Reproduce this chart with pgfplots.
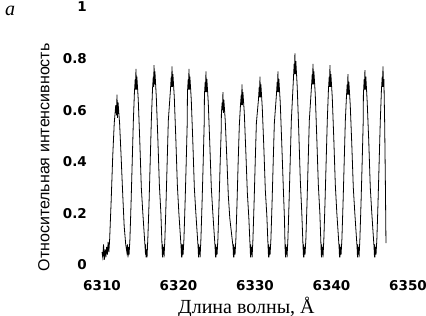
\documentclass[border=0pt]{standalone}
\usepackage{fontspec}
\setmainfont{Liberation Serif}
\setsansfont{Liberation Sans}
\newfontfamily\tickfont{DejaVu Sans}
\usepackage{pgfplots}
\pgfplotsset{compat=1.18}
\begin{document}
\begin{tikzpicture}
\useasboundingbox (-102pt,-51pt) rectangle (324pt,265pt);
\begin{axis}[
  at={(0,0)}, anchor=south west,
  scale only axis,
  width=306pt, height=258pt,
  xmin=6310, xmax=6350, ymin=0, ymax=1,
  axis line style={draw=none},
  major tick length=0pt,
  xtick={6310,6320,6330,6340,6350},
  xticklabels={6310,6320,6330,6340,6350},
  ytick={0,0.2,0.4,0.6,0.8,1},
  yticklabels={0,0.2,0.4,0.6,0.8,1},
  ticklabel style={font=\tickfont\bfseries\fontsize{13.5}{15}\selectfont},
  xticklabel style={inner sep=0pt, anchor=north, yshift=-15pt},
  yticklabel style={inner sep=0pt, anchor=east, xshift=-15pt},
  clip=false,
  xlabel={Длина волны, Å},
  ylabel={Относительная интенсивность},
  every axis x label/.style={at={(axis description cs:0.472,-0.163)}, anchor=center, font=\rmfamily\fontsize{20}{22}\selectfont},
  every axis y label/.style={at={(axis description cs:-0.19,0.417)}, anchor=center, rotate=90, font=\sffamily\fontsize{16}{18}\selectfont},
]
\node[font=\rmfamily\itshape\fontsize{20}{22}\selectfont] at (axis description cs:-0.30,0.985) {a};
\addplot[black, line width=0.8pt] coordinates {
(6310.00,0.05) (6310.10,0.03) (6310.20,0.08) (6310.30,0.02) (6310.40,0.06) (6310.50,0.03)
(6310.60,0.07) (6310.70,0.04) (6310.80,0.09) (6310.90,0.05) (6311.00,0.10)
(6311.20,0.25) (6311.40,0.42) (6311.60,0.55) (6311.80,0.62) (6311.90,0.58) (6311.96,0.66)
(6312.02,0.57) (6312.10,0.63) (6312.30,0.55) (6312.50,0.42) (6312.70,0.28) (6312.90,0.15)
(6313.10,0.08) (6313.25,0.05) (6313.33,0.08)
(6313.40,0.03) (6313.47,0.07) (6313.54,0.04) (6313.65,0.10) (6313.80,0.24) (6313.95,0.40)
(6314.10,0.56) (6314.24,0.67) (6314.34,0.72) (6314.39,0.68) (6314.44,0.76) (6314.50,0.68)
(6314.56,0.73) (6314.74,0.64) (6314.94,0.48) (6315.14,0.30) (6315.34,0.20) (6315.63,0.07)
(6315.69,0.04) (6315.72,0.08)
(6315.75,0.03) (6315.82,0.06) (6315.89,0.03) (6316.00,0.11) (6316.15,0.24) (6316.30,0.40)
(6316.45,0.56) (6316.60,0.68) (6316.70,0.73) (6316.75,0.69) (6316.80,0.775) (6316.86,0.70)
(6316.92,0.75) (6317.10,0.65) (6317.30,0.49) (6317.50,0.31) (6317.70,0.20) (6317.85,0.07)
(6317.91,0.03) (6317.94,0.08)
(6317.97,0.04) (6318.04,0.07) (6318.11,0.03) (6318.22,0.10) (6318.37,0.24) (6318.52,0.40)
(6318.67,0.56) (6318.95,0.68) (6319.05,0.73) (6319.10,0.69) (6319.15,0.77) (6319.21,0.69)
(6319.27,0.74) (6319.45,0.65) (6319.65,0.49) (6319.85,0.31) (6320.05,0.20) (6320.34,0.07)
(6320.40,0.03) (6320.43,0.08)
(6320.46,0.03) (6320.53,0.08) (6320.60,0.04) (6320.71,0.10) (6320.86,0.24) (6321.01,0.40)
(6321.14,0.55) (6321.17,0.67) (6321.27,0.72) (6321.32,0.68) (6321.37,0.76) (6321.43,0.68)
(6321.49,0.73) (6321.67,0.64) (6321.87,0.48) (6322.07,0.30) (6322.27,0.20) (6322.56,0.07)
(6322.62,0.03) (6322.65,0.08)
(6322.68,0.04) (6322.75,0.07) (6322.82,0.03) (6322.93,0.10) (6323.08,0.24) (6323.23,0.40)
(6323.36,0.55) (6323.39,0.66) (6323.49,0.71) (6323.54,0.67) (6323.59,0.75) (6323.65,0.67)
(6323.71,0.72) (6323.89,0.63) (6324.09,0.47) (6324.29,0.30) (6324.49,0.20) (6324.78,0.07)
(6324.84,0.03) (6324.87,0.08)
(6324.90,0.03) (6324.97,0.07) (6325.04,0.04) (6325.15,0.10) (6325.30,0.24) (6325.45,0.40)
(6325.58,0.52) (6325.61,0.59) (6325.71,0.63) (6325.76,0.60) (6325.81,0.67) (6325.87,0.59)
(6325.93,0.64) (6326.11,0.56) (6326.31,0.42) (6326.51,0.27) (6326.71,0.18) (6327.13,0.07)
(6327.19,0.03) (6327.22,0.08)
(6327.25,0.03) (6327.32,0.07) (6327.39,0.04) (6327.50,0.10) (6327.65,0.24) (6327.80,0.40)
(6327.95,0.54) (6328.10,0.62) (6328.20,0.66) (6328.25,0.62) (6328.30,0.70) (6328.36,0.62)
(6328.42,0.67) (6328.60,0.59) (6328.80,0.44) (6329.00,0.28) (6329.20,0.18) (6329.36,0.07)
(6329.42,0.03) (6329.45,0.08)
(6329.48,0.04) (6329.55,0.07) (6329.62,0.03) (6329.73,0.10) (6329.88,0.24) (6330.03,0.40)
(6330.18,0.55) (6330.45,0.64) (6330.55,0.69) (6330.60,0.65) (6330.65,0.73) (6330.71,0.65)
(6330.77,0.70) (6330.95,0.61) (6331.15,0.46) (6331.35,0.29) (6331.55,0.19) (6331.71,0.07)
(6331.77,0.03) (6331.80,0.08)
(6331.83,0.03) (6331.90,0.07) (6331.97,0.04) (6332.08,0.10) (6332.23,0.24) (6332.38,0.40)
(6332.53,0.55) (6332.80,0.66) (6332.90,0.71) (6332.95,0.67) (6333.00,0.75) (6333.06,0.67)
(6333.12,0.72) (6333.30,0.63) (6333.50,0.47) (6333.70,0.30) (6333.85,0.18) (6333.93,0.07)
(6333.99,0.03) (6334.02,0.08)
(6334.05,0.04) (6334.12,0.07) (6334.19,0.03) (6334.30,0.10) (6334.45,0.24) (6334.60,0.40)
(6334.75,0.56) (6335.02,0.72) (6335.12,0.78) (6335.17,0.74) (6335.22,0.82) (6335.28,0.74)
(6335.34,0.79) (6335.52,0.69) (6335.72,0.52) (6335.92,0.33) (6336.12,0.20) (6336.28,0.07)
(6336.34,0.03) (6336.37,0.08)
(6336.40,0.03) (6336.47,0.07) (6336.54,0.04) (6336.65,0.10) (6336.80,0.24) (6336.95,0.40)
(6337.10,0.56) (6337.38,0.69) (6337.48,0.74) (6337.53,0.70) (6337.58,0.78) (6337.64,0.70)
(6337.70,0.75) (6337.88,0.66) (6338.08,0.49) (6338.28,0.31) (6338.48,0.20) (6338.63,0.07)
(6338.69,0.03) (6338.72,0.08)
(6338.75,0.04) (6338.82,0.07) (6338.89,0.03) (6339.00,0.10) (6339.15,0.24) (6339.30,0.40)
(6339.45,0.56) (6339.60,0.68) (6339.70,0.73) (6339.75,0.69) (6339.80,0.775) (6339.86,0.69)
(6339.92,0.74) (6340.10,0.65) (6340.30,0.49) (6340.50,0.31) (6340.70,0.20) (6340.99,0.07)
(6341.05,0.03) (6341.08,0.08)
(6341.11,0.03) (6341.18,0.07) (6341.25,0.04) (6341.36,0.10) (6341.51,0.24) (6341.66,0.40)
(6341.81,0.56) (6341.95,0.65) (6342.05,0.70) (6342.10,0.66) (6342.15,0.74) (6342.21,0.66)
(6342.27,0.71) (6342.45,0.62) (6342.65,0.47) (6342.85,0.30) (6343.05,0.20) (6343.34,0.07)
(6343.40,0.03) (6343.43,0.08)
(6343.46,0.04) (6343.53,0.07) (6343.60,0.03) (6343.71,0.10) (6343.86,0.24) (6344.01,0.40)
(6344.14,0.55) (6344.17,0.66) (6344.27,0.72) (6344.32,0.68) (6344.37,0.755) (6344.43,0.68)
(6344.49,0.73) (6344.67,0.63) (6344.87,0.48) (6345.07,0.30) (6345.27,0.20) (6345.56,0.07)
(6345.62,0.03) (6345.65,0.08)
(6345.68,0.03) (6345.75,0.07) (6345.82,0.04) (6345.93,0.10) (6346.08,0.24) (6346.23,0.40)
(6346.38,0.56) (6346.53,0.68) (6346.63,0.73) (6346.68,0.69) (6346.73,0.77) (6346.79,0.69)
(6346.85,0.72) (6346.95,0.55) (6347.05,0.30) (6347.12,0.085)
};
\end{axis}
\end{tikzpicture}
\end{document}
